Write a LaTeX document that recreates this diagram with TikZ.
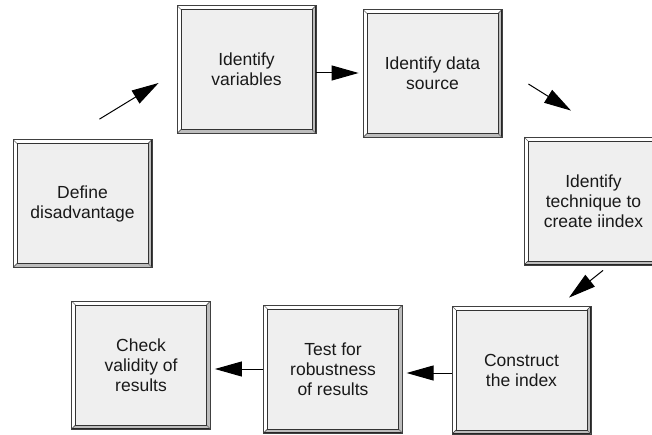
\documentclass[tikz,border=0pt]{standalone}
\usepackage{fontspec}
\setmainfont{Liberation Sans}
\usetikzlibrary{arrows.meta}
\definecolor{boxfill}{HTML}{EFEFEF}
\definecolor{bandgray}{HTML}{BDBDBD}
\tikzset{
  bevbox/.style={rectangle, minimum width=139pt, minimum height=128pt, inner sep=0pt,
    draw=black!75, line width=0.8pt, fill=white, align=center,
    font=\fontsize{17.5}{20}\selectfont, text=black!90,
    path picture={
      \fill[bandgray] (path picture bounding box.south west) -- (path picture bounding box.south east)
        -- (path picture bounding box.north east) -- ([shift={(-4pt,-4pt)}]path picture bounding box.north east)
        -- ([shift={(-4pt,4pt)}]path picture bounding box.south east) -- ([shift={(4pt,4pt)}]path picture bounding box.south west) -- cycle;
      \draw[black!85, line width=1.6pt] (path picture bounding box.south west) -- (path picture bounding box.south east) -- (path picture bounding box.north east);
      \draw[black!80, line width=0.6pt] (path picture bounding box.south west) -- ([shift={(4pt,4pt)}]path picture bounding box.south west);
      \draw[black!80, line width=0.6pt] (path picture bounding box.north east) -- ([shift={(-4pt,-4pt)}]path picture bounding box.north east);
      \draw[black!60, line width=0.6pt] (path picture bounding box.north west) -- ([shift={(4pt,-4pt)}]path picture bounding box.north west);
      \draw[black!60, line width=0.6pt] (path picture bounding box.south east) -- ([shift={(-4pt,4pt)}]path picture bounding box.south east);
      \filldraw[fill=boxfill, draw=black!80, line width=0.8pt] ([shift={(4pt,4pt)}]path picture bounding box.south west) rectangle ([shift={(-4pt,-4pt)}]path picture bounding box.north east);
    }},
  flow/.style={line width=1pt, -{Triangle[length=27pt, width=15pt]}}
}
\begin{document}
\begin{tikzpicture}[x=1pt, y=1pt]
\useasboundingbox (0,0) rectangle (652,434);
% image y -> 434 - y
\node[bevbox] (def)   at (82.5, 230.5) {Define\\disadvantage};
\node[bevbox] (var)   at (246.5, 364.5) {Identify\\variables};
\node[bevbox] (src)   at (432.5, 360.5) {Identify data\\source};
\node[bevbox] (tech)  at (593.5, 233) {Identify\\technique to\\create iindex};
\node[bevbox] (con)   at (521.5, 64) {Construct\\the index};
\node[bevbox] (test)  at (333, 65) {Test for\\robustness\\of results};
\node[bevbox] (check) at (141, 69) {Check\\validity of\\results};

\draw[flow] ([shift={(17pt,20pt)}]def.north) -- ([shift={(-18pt,-13.5pt)}]var.west);
\draw[flow] ([yshift=-3.5pt]var.east) -- ([xshift=-4pt,yshift=-3.5pt]src.west |- var.east);
\draw[flow] ([shift={(26pt,-10.5pt)}]src.east) -- ([shift={(-22.5pt,26pt)}]tech.north);
\draw[flow] ([shift={(9.5pt,-5pt)}]tech.south) -- ([shift={(47.5pt,8pt)}]con.north);
\draw[flow] ([yshift=-3pt]con.west) -- ([xshift=-45pt,yshift=-3pt]con.west);
\draw[flow] (test.west) -- ([xshift=4pt]check.east |- test.west);
\end{tikzpicture}
\end{document}
